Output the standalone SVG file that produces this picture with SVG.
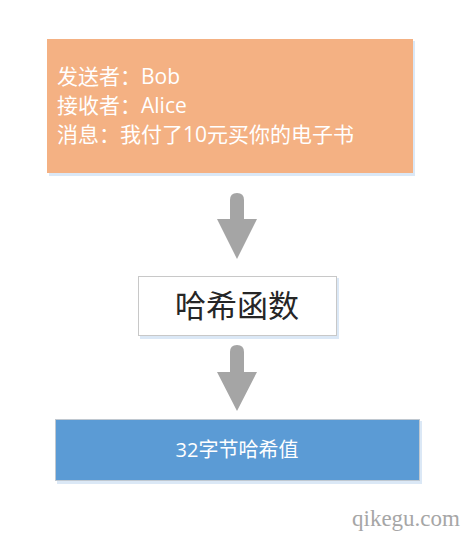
<svg xmlns="http://www.w3.org/2000/svg" width="471" height="541" viewBox="0 0 471 541">
<defs>
<style>
.t{font-family:"Open Sans","Noto Sans CJK SC",sans-serif;}
.w{fill:#ffffff;}
.arrow{fill:#a5a5a5;}
.shadow{fill:#dbe8f6;}
</style>
</defs>
<rect width="471" height="541" fill="#ffffff"/>
<g id="sender">
<rect class="shadow" x="49" y="41" width="366" height="135"/>
<rect x="47" y="39" width="366" height="134" fill="#f4b183"/>
<text class="t w" font-size="21" x="57" y="84">发送者：Bob</text>
<text class="t w" font-size="21" x="57" y="113">接收者：Alice</text>
<text class="t w" font-size="21" x="57" y="142">消息：我付了10元买你的电子书</text>
</g>
<g id="connectors">
<path class="arrow" d="M230,200 Q230,193 237,193 Q244,193 244,200 L244,219 L257,219 L237,259 L217,219 L230,219 Z"/>
<path class="arrow" d="M230,352 Q230,345 237,345 Q244,345 244,352 L244,372 L257,372 L237,411 L217,372 L230,372 Z"/>
</g>
<g id="hash">
<rect class="shadow" x="140" y="278" width="199" height="61"/>
<rect x="138.5" y="276.5" width="198" height="59" fill="#ffffff" stroke="#c8c8c8"/>
<text class="t" font-size="31" fill="#262626" x="237" y="317" text-anchor="middle">哈希函数</text>
</g>
<g id="result">
<rect class="shadow" x="57" y="421" width="365" height="63"/>
<rect x="55.5" y="419.5" width="364" height="61" fill="#5b9bd5" stroke="#c0c8d0"/>
<text class="t w" font-size="20" x="237" y="457" text-anchor="middle">32字节哈希值</text>
</g>
<text x="406" y="526" font-family="Liberation Serif,serif" font-size="23" fill="#a6a6a6" text-anchor="middle">qikegu.com</text>
</svg>
